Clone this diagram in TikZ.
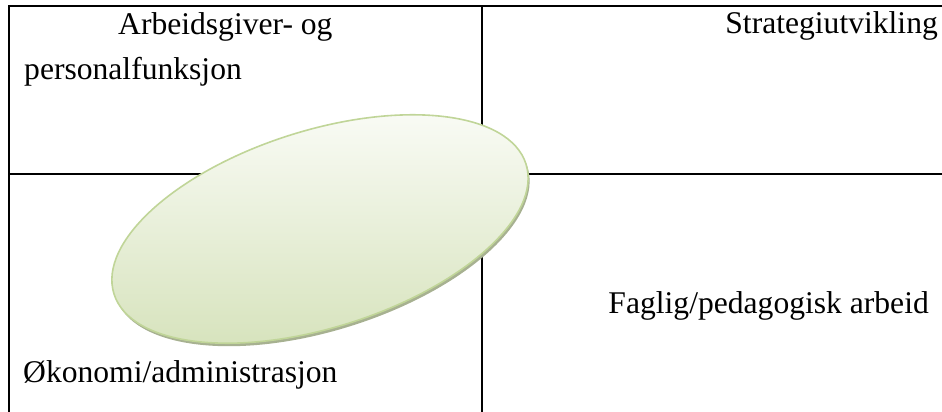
\documentclass[tikz,border=0pt]{standalone}
\usepackage{fontspec}
\setmainfont{Liberation Serif}
\definecolor{elltop}{HTML}{FBFCF8}
\definecolor{ellbot}{HTML}{D5E2BA}
\definecolor{ellrim}{HTML}{C0D598}
\definecolor{ellshadow}{HTML}{A7B191}
\begin{document}
\begin{tikzpicture}[x=1pt,y=1pt,
  gridline/.style={line width=1.8pt,black},
  lbl/.style={inner sep=0pt,font=\fontsize{31.6}{36}\selectfont}]
\useasboundingbox (0,0) rectangle (942,412);
% grid coordinates
\coordinate (tl) at (9,406);
\coordinate (tr) at (942,406);
\coordinate (bl) at (9,0);
\coordinate (ml) at (9,238);
\coordinate (mr) at (942,238);
\coordinate (vt) at (482,406);
\coordinate (vb) at (482,0);
\draw[gridline] (tr) -- (tl) -- (bl);
\draw[gridline] (ml) -- (mr);
\draw[gridline] (vt) -- (vb);
% ellipse with shadow
\fill[ellshadow] (321.5,180) ellipse [x radius=216, y radius=98.5, rotate=17.5];
\shade[top color=elltop, bottom color=ellbot, draw=ellrim, line width=1.6pt]
  (320,183) ellipse [x radius=216, y radius=98.5, rotate=17.5];
% labels
\node[lbl, anchor=base west] (a1) at (118,377) {Arbeidsgiver- og};
\node[lbl, anchor=base west] (a2) at (24,332) {personalfunksjon};
\node[lbl, anchor=base east] (s) at (938,378) {Strategiutvikling};
\node[lbl, anchor=base east] (f) at (929,98) {Faglig/pedagogisk arbeid};
\node[lbl, anchor=base west] (o) at (23,29) {Økonomi/administrasjon};
\end{tikzpicture}
\end{document}
